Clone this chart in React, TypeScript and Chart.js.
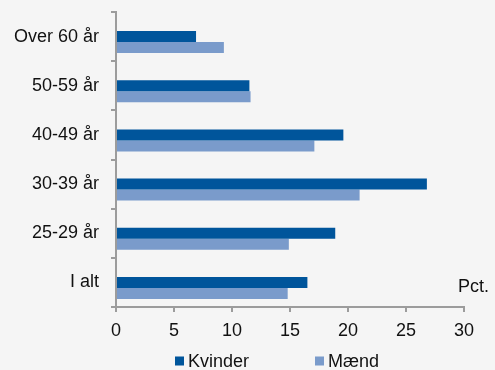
import React, { useEffect, useRef } from "react";
import { Chart, registerables } from "chart.js";

Chart.register(...registerables);

// Age groups, top to bottom
const categories = ["Over 60 år", "50-59 år", "40-49 år", "30-39 år", "25-29 år", "I alt"];
// Share in percent
const kvinder = [6.9, 11.5, 19.6, 26.8, 18.9, 16.5];
const maend = [9.3, 11.6, 17.1, 21.0, 14.9, 14.8];
const seriesNames = ["Kvinder", "Mænd"];
const xTicks = [0, 5, 10, 15, 20, 25, 30];
const unitLabel = "Pct.";

const DARK = "#00559b";
const LIGHT = "#7a9bcb";
const AXIS = "#9c9c9c";
const TEXT = "#111111";
const FONT = "Liberation Sans, Arial, sans-serif";
const FONT_SIZE = 18;

const extrasPlugin = {
  id: "extras",
  afterDraw(chart: any) {
    const ctx = chart.ctx;
    const area = chart.chartArea;
    ctx.save();
    ctx.font = `${FONT_SIZE}px ${FONT}`;
    ctx.fillStyle = TEXT;
    ctx.textBaseline = "middle";
    // unit label above the x axis, at the right end
    ctx.textAlign = "left";
    ctx.fillText(unitLabel, area.right - 6, area.bottom - 20);
    // legend
    const items = [
      { label: seriesNames[0], color: DARK, x: 175 },
      { label: seriesNames[1], color: LIGHT, x: 315 },
    ];
    const y = 361;
    for (const it of items) {
      ctx.fillStyle = it.color;
      ctx.fillRect(it.x, y - 4.5, 9, 9);
      ctx.fillStyle = TEXT;
      ctx.fillText(it.label, it.x + 13, y + 1);
    }
    ctx.restore();
  },
};

export default function App() {
  const canvasRef = useRef<HTMLCanvasElement | null>(null);

  useEffect(() => {
    if (!canvasRef.current) return;
    const chart = new Chart(canvasRef.current, {
      type: "bar",
      data: {
        labels: categories,
        datasets: [
          // empty leading slot keeps the pair of bars below the category centre
          { label: "", data: categories.map(() => null), backgroundColor: "transparent" },
          { label: seriesNames[0], data: kvinder, backgroundColor: DARK },
          { label: seriesNames[1], data: maend, backgroundColor: LIGHT },
        ],
      },
      options: {
        indexAxis: "y",
        animation: false,
        responsive: false,
        maintainAspectRatio: false,
        layout: { padding: { left: 0, top: 12, right: 31, bottom: 0 } },
        datasets: {
          bar: { categoryPercentage: 0.67, barPercentage: 1 },
        } as any,
        plugins: {
          legend: { display: false },
          tooltip: { enabled: false },
        },
        scales: {
          x: {
            min: 0,
            max: 30,
            afterBuildTicks: (scale: any) => {
              scale.ticks = xTicks.map((v) => ({ value: v }));
            },
            afterFit: (scale: any) => {
              scale.height = 63;
              scale.paddingLeft = 0;
              scale.paddingRight = 0;
            },
            grid: {
              drawOnChartArea: false,
              drawTicks: true,
              tickLength: 5,
              color: AXIS,
              lineWidth: 2,
            },
            border: { display: true, color: AXIS, width: 2 },
            ticks: {
              color: TEXT,
              font: { family: FONT, size: FONT_SIZE },
              padding: 8,
              maxRotation: 0,
            },
          },
          y: {
            afterFit: (scale: any) => {
              scale.width = 116;
              scale.paddingTop = 0;
              scale.paddingBottom = 0;
            },
            grid: {
              drawOnChartArea: false,
              drawTicks: true,
              tickLength: 5,
              offset: true,
              color: AXIS,
              lineWidth: 2,
            },
            border: { display: true, color: AXIS, width: 2 },
            ticks: {
              color: TEXT,
              font: { family: FONT, size: FONT_SIZE },
              padding: 12,
            },
          },
        },
      },
      plugins: [extrasPlugin],
    });
    return () => chart.destroy();
  }, []);

  return (
    <div
      style={{
        position: "fixed",
        left: 0,
        top: 0,
        width: 495,
        height: 370,
        background: "#f5f5f5",
      }}
    >
      <canvas ref={canvasRef} width={495} height={370} style={{ display: "block" }} />
    </div>
  );
}
